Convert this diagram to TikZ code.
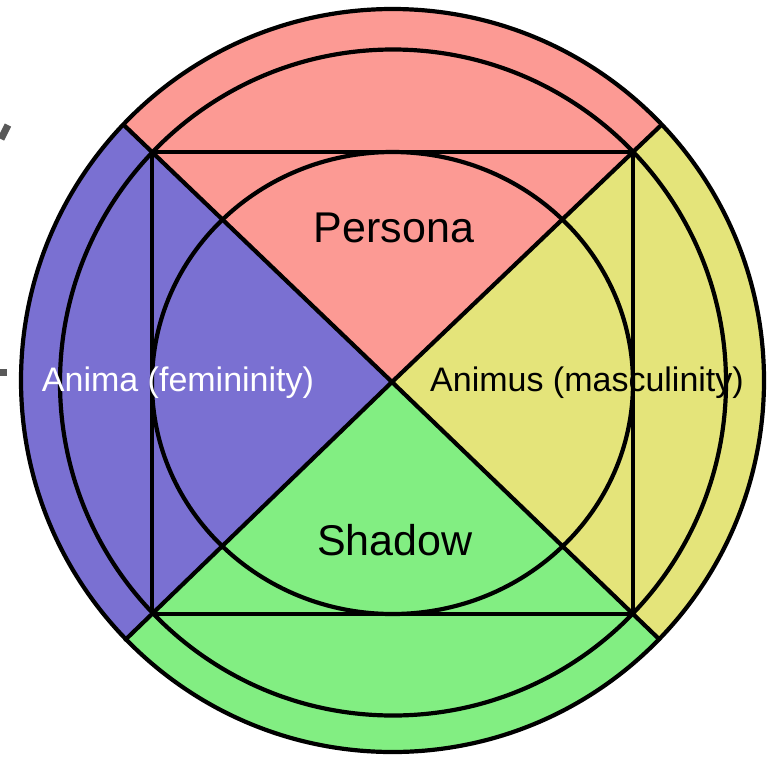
\documentclass[tikz,border=0pt]{standalone}
\usepackage{fontspec}
\setmainfont{Liberation Sans}
\usepackage{tikz}
\usetikzlibrary{calc}
\definecolor{persred}{RGB}{252,154,148}
\definecolor{animablue}{RGB}{122,112,210}
\definecolor{animusyel}{RGB}{228,228,122}
\definecolor{shadgreen}{RGB}{130,238,130}
\tikzset{
  ring/.style   = {draw=black, line width=4.2pt},
  edge/.style   = {draw=black, line width=4.2pt, line cap=round},
  bigtxt/.style = {font=\fontsize{43}{50}\selectfont, text=black, inner sep=0pt},
  smtxt/.style  = {font=\fontsize{34}{40}\selectfont, inner sep=0pt},
  smudge/.style = {draw=black!65, line width=7pt},
}

\begin{document}
\begin{tikzpicture}[x=1pt,y=-1pt]
  \useasboundingbox (0,0) rectangle (770,758);
  \coordinate (c)  at (392,382);
  \coordinate (tl) at (152,152);
  \coordinate (tr) at (633,152);
  \coordinate (bl) at (152,614);
  \coordinate (br) at (633,614);
  % ends of the diagonals on the outer ring
  \coordinate (otl) at ($(c)!1.118!(tl)$);
  \coordinate (otr) at ($(c)!1.116!(tr)$);
  \coordinate (obl) at ($(c)!1.11!(bl)$);
  \coordinate (obr) at ($(c)!1.108!(br)$);

  % coloured quarters
  \begin{scope}
    \clip (392.5,380.5) circle (371.5);
    \fill[persred]    (c) -- ($(c)!3!(tl)$) -- ($(c)!3!(tr)$) -- cycle;
    \fill[animusyel]  (c) -- ($(c)!3!(tr)$) -- ($(c)!3!(br)$) -- cycle;
    \fill[shadgreen]  (c) -- ($(c)!3!(br)$) -- ($(c)!3!(bl)$) -- cycle;
    \fill[animablue]  (c) -- ($(c)!3!(bl)$) -- ($(c)!3!(tl)$) -- cycle;
  \end{scope}

  % rings, square and diagonals
  \draw[ring] (392.5,380.5) circle (371.5);
  \draw[ring] (393,382.5) circle (333);
  \draw[ring] (392.5,383) ellipse [x radius=240.5, y radius=231];
  \draw[edge] (tl) -- (tr) -- (br) -- (bl) -- cycle;
  \draw[edge] (otl) -- (c) -- (obr);
  \draw[edge] (otr) -- (c) -- (obl);

  % labels
  \node[bigtxt] (persona) at (394,228) {Persona};
  \node[bigtxt] (shadow)  at (395,540) {Shadow};
  \node[smtxt, text=white] (anima)  at (178,383) {Anima (femininity)};
  \node[smtxt, text=black] (animus) at (587,383) {Animus (masculinity)};

  % marks at the left border
  \draw[smudge] (8,125) -- (1,139);
  \draw[smudge] (0,372) -- (7,372);
\end{tikzpicture}
\end{document}
